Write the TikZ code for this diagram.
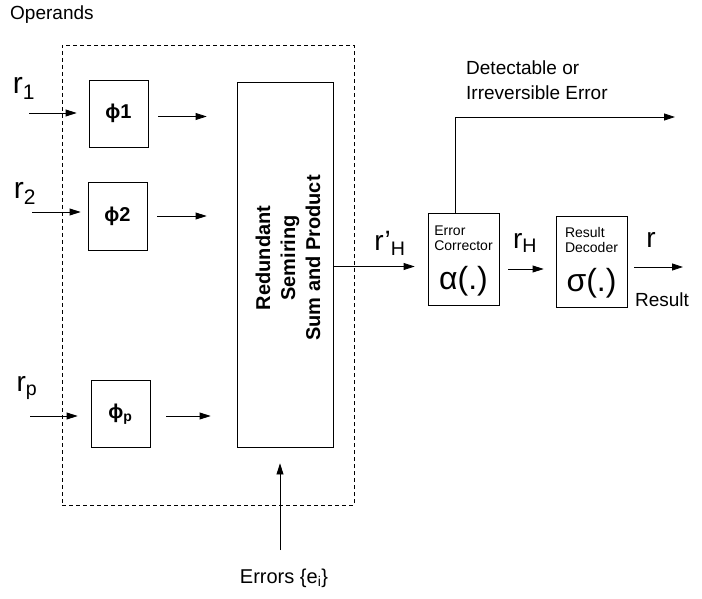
\documentclass[tikz,border=0pt]{standalone}
\usepackage{fontspec}
\setmainfont{Liberation Sans}
\usetikzlibrary{arrows.meta, positioning, calc}

\begin{document}
\begin{tikzpicture}[x=1pt, y=-1pt,
  blk/.style={draw, rectangle, line width=0.8pt, inner sep=0pt, font=\bfseries\fontsize{20}{22}\selectfont},
  grp/.style={draw, rectangle, line width=0.7pt, dash pattern=on 4pt off 3pt, inner sep=0pt},
  arrow/.style={-{Triangle[length=11pt, width=7pt]}, line width=0.8pt},
  lbl/.style={inner sep=0pt, font=\fontsize{19}{25}\selectfont},
  rlbl/.style={inner sep=0pt, font=\fontsize{30}{32}\selectfont}
]
\useasboundingbox (0,0) rectangle (702,599);

\node[grp, minimum width=292pt, minimum height=460pt] (opgrp) at (208,275) {};
\node[lbl, anchor=west] (oplbl) at (10,15) {Operands};

\node[blk, minimum width=59pt, minimum height=67pt] (phi1) at (118.5,113.5) {ϕ1};
\node[blk, minimum width=59pt, minimum height=68pt] (phi2) at (117.5,216) {ϕ2};
\node[blk, minimum width=59pt, minimum height=67pt] (phip) at (120.5,414) {ϕ\textsubscript{p}};

\node[blk, minimum width=96pt, minimum height=365pt] (sum) at (285,264.5) {};
\node[blk, draw=none, rotate=90, align=center, font=\bfseries\fontsize{20}{25}\selectfont] (sumtxt) at (288,258) {Redundant\\Semiring\\Sum and Product};

\node[blk, font=\fontsize{32}{34}\selectfont, align=center, minimum width=71pt, minimum height=92pt] (corr) at (463.5,259)
  {{\fontsize{14}{19}\selectfont\begin{tabular}{@{}l@{}}Error\\[-4pt]Corrector\end{tabular}}\\[9pt] α(.)};
\node[blk, font=\fontsize{32}{34}\selectfont, align=center, minimum width=71pt, minimum height=91pt] (dec) at (591.5,261.5)
  {{\fontsize{14}{19}\selectfont\begin{tabular}{@{}l@{}}Result\\[-4pt]Decoder\end{tabular}}\\[9pt] σ(.)};

\coordinate (in1) at (29,113);
\coordinate (in2) at (32,212);
\coordinate (inp) at (30,416);
\coordinate (res) at (683,267);
\coordinate (det) at (675,117);
\coordinate (errin) at (280,550);

\node[rlbl] (r1lbl) at (24,88) {r\textsubscript{1}};
\node[rlbl] (r2lbl) at (25,193) {r\textsubscript{2}};
\node[rlbl, font=\fontsize{28}{30}\selectfont] (rplbl) at (27,388) {r\textsubscript{p}};
\node[rlbl, font=\fontsize{28}{30}\selectfont] (rhplbl) at (390,243) {r’\textsubscript{H}};
\node[rlbl, font=\fontsize{28}{30}\selectfont] (rhlbl) at (525,243) {r\textsubscript{H}};
\node[rlbl, font=\fontsize{28}{30}\selectfont] (rlbl) at (651,240) {r};
\node[lbl] (reslbl) at (662,300) {Result};
\node[lbl, align=left, anchor=west] (detlbl) at (466,80) {Detectable or\\Irreversible Error};
\node[lbl, font=\fontsize{20}{22}\selectfont] (errlbl) at (284,578) {Errors \{e\textsubscript{i}\}};

\draw[arrow, shorten >=12pt] (in1) -- (in1 -| phi1.west);
\draw[arrow, shorten >=7pt] (in2) -- (in2 -| phi2.west);
\draw[arrow, shorten >=13pt] (inp) -- (inp -| phip.west);

\draw[arrow, shorten <=10pt, shorten >=30pt] ([yshift=-3pt]phi1.east) -- ([yshift=-3pt]phi1.east -| sum.west);
\draw[arrow, shorten <=10pt, shorten >=30pt] (phi2.east) -- (phi2.east -| sum.west);
\draw[arrow, shorten <=16pt, shorten >=26pt] ([yshift=-2pt]phip.east) -- ([yshift=-2pt]phip.east -| sum.west);

\draw[arrow, shorten >=13pt] ([yshift=-2pt]sum.east) -- ([yshift=-2pt]sum.east -| corr.west);
\draw[arrow, shorten <=9pt, shorten >=12pt] ([yshift=-10pt]corr.east) -- ([yshift=-10pt]corr.east -| dec.west);
\draw[arrow, shorten <=7pt] (dec.east |- res) -- (res);
\draw[arrow] ([xshift=-8pt]corr.north) |- (det);
\draw[arrow, shorten >=16pt] (errin) -- (errin |- sum.south);

\end{tikzpicture}
\end{document}
